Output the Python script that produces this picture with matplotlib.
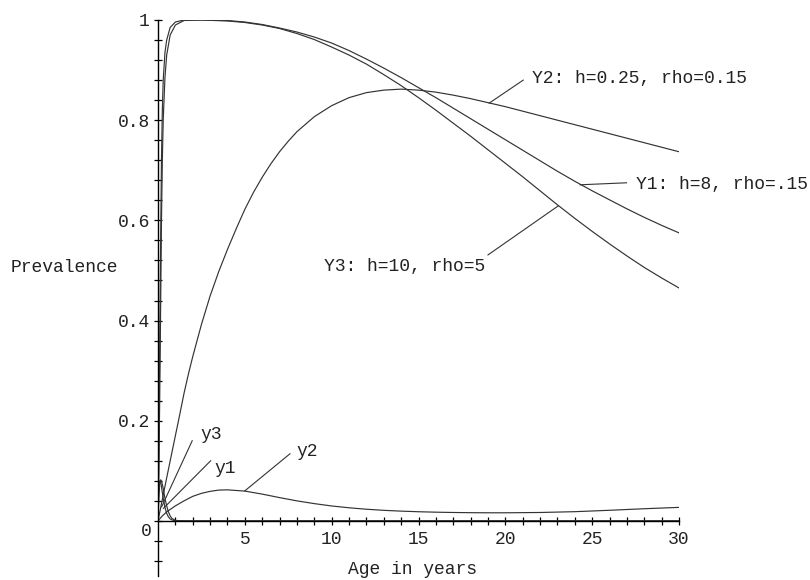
import matplotlib
matplotlib.use('Agg')
import matplotlib.pyplot as plt
import numpy as np

plt.rcParams['font.family'] = ['Liberation Mono', 'DejaVu Sans Mono']

# big curves Y1, Y3 (fast rise then fall), Y2 (slow rise)
x_Y1 = [0, 0.05, 0.1, 0.15, 0.2, 0.25, 0.3, 0.4, 0.5, 0.7, 1.0, 1.5, 2.5, 4, 5, 6, 7, 8, 9, 10,
        11, 12, 13, 14, 15, 16, 17, 18, 19, 20, 21, 22, 23, 24, 25, 26, 27, 28, 29, 30]
Y1 = [0, 0.1, 0.25, 0.42, 0.6, 0.72, 0.8, 0.885, 0.93, 0.97, 0.99, 0.999, 1.0, 0.999, 0.996,
      0.991, 0.984, 0.976, 0.966, 0.954, 0.939, 0.922, 0.904, 0.885, 0.865, 0.845, 0.824, 0.803,
      0.782, 0.761, 0.740, 0.719, 0.698, 0.678, 0.659, 0.641, 0.623, 0.606, 0.590, 0.575]

x_Y3 = [0, 0.05, 0.1, 0.15, 0.2, 0.25, 0.3, 0.4, 0.5, 0.7, 1.0, 1.5, 2.5, 4, 5, 6, 7, 8, 9, 10,
        11, 12, 13, 14, 15, 16, 17, 18, 19, 20, 21, 22, 23, 24, 25, 26, 27, 28, 29, 30]
Y3 = [0, 0.15, 0.35, 0.55, 0.72, 0.82, 0.88, 0.935, 0.96, 0.985, 0.996, 1.0, 1.0, 0.998, 0.995,
      0.99, 0.983, 0.973, 0.961, 0.946, 0.930, 0.912, 0.891, 0.869, 0.845, 0.820, 0.794, 0.768,
      0.741, 0.714, 0.687, 0.659, 0.631, 0.604, 0.578, 0.553, 0.529, 0.506, 0.485, 0.465]

x_Y2 = [0, 0.25, 0.5, 0.75, 1, 1.25, 1.5, 1.75, 2, 2.5, 3, 3.5, 4, 4.5, 5, 5.5, 6, 6.5, 7, 7.5,
        8, 9, 10, 11, 12, 13, 14, 15, 16, 17, 18, 19, 20, 21, 22, 23, 24, 25, 26, 27, 28, 29, 30]
Y2 = [0, 0.043, 0.086, 0.128, 0.17, 0.212, 0.255, 0.293, 0.328, 0.392, 0.449, 0.498, 0.542,
      0.583, 0.622, 0.656, 0.686, 0.713, 0.737, 0.758, 0.777, 0.807, 0.829, 0.845, 0.855, 0.860,
      0.862, 0.860, 0.856, 0.850, 0.843, 0.835, 0.827, 0.818, 0.809, 0.8, 0.791, 0.782, 0.773,
      0.764, 0.755, 0.746, 0.737]

# small curves y1, y3 (spikes near 0), y2
x_y1 = [0, 0.05, 0.1, 0.15, 0.2, 0.3, 0.4, 0.5, 0.6, 0.7, 0.8, 1.0, 1.5, 30]
y1 = [0, 0.05, 0.075, 0.082, 0.08, 0.065, 0.045, 0.03, 0.018, 0.01, 0.005, 0.001, 0, 0]

x_y3 = [0, 0.05, 0.1, 0.15, 0.2, 0.3, 0.4, 0.5, 0.6, 0.7, 0.8, 1.0, 30]
y3 = [0, 0.06, 0.08, 0.078, 0.068, 0.045, 0.027, 0.015, 0.008, 0.004, 0.002, 0, 0]

x_y2 = [0, 0.25, 0.5, 1, 1.5, 2, 2.5, 3, 3.5, 4, 5, 6, 7, 8, 9, 10, 11, 12, 13, 14, 15, 16,
        17, 18, 19, 20, 22, 24, 26, 28, 30]
y2 = [0, 0.01, 0.018, 0.03, 0.04, 0.049, 0.055, 0.059, 0.0615, 0.062, 0.0595, 0.0535, 0.0465,
      0.04, 0.0345, 0.0298, 0.0262, 0.0233, 0.0211, 0.0195, 0.0183, 0.0174, 0.0168, 0.0164,
      0.0162, 0.0162, 0.0168, 0.0184, 0.0212, 0.0243, 0.027]

xtick_vals = [5, 10, 15, 20, 25, 30]
ytick_vals = [0.2, 0.4, 0.6, 0.8, 1.0]
ytick_labels = ['0.2', '0.4', '0.6', '0.8', '1']

fig = plt.figure(figsize=(8.1, 5.8), dpi=100)
ax = fig.add_axes([158 / 810, 4 / 580, 521 / 810, 556 / 580])

lc = '#333333'
lw = 0.85
for xs, ys in [(x_Y1, Y1), (x_Y3, Y3), (x_Y2, Y2), (x_y1, y1), (x_y3, y3), (x_y2, y2)]:
    ax.plot(xs, ys, color=lc, lw=lw)

# labels with pointer lines: (text, curve point, line end, text pos, ha)
notes = [
    ('Y2: h=0.25, rho=0.15', (19.07, 0.834), (21.03, 0.880), (21.55, 0.883), 'left'),
    ('Y1: h=8, rho=.15', (24.3, 0.671), (26.98, 0.675), (27.5, 0.671), 'left'),
    ('Y3: h=10, rho=5', (23.05, 0.629), (19.0, 0.531), (18.85, 0.507), 'right'),
    ('y3', (0.21, 0.028), (1.97, 0.160), (2.45, 0.172), 'left'),
    ('y1', (0.31, 0.025), (3.03, 0.120), (3.25, 0.104), 'left'),
    ('y2', (5.0, 0.060), (7.6, 0.134), (7.95, 0.138), 'left'),
]
for txt, p0, p1, tp, ha in notes:
    ax.plot([p0[0], p1[0]], [p0[1], p1[1]], color=lc, lw=0.8)
    ax.text(tp[0], tp[1], txt, ha=ha, va='center', fontsize=13, color='#222222')

ax.set_xlim(0, 30)
ax.set_ylim(-0.11, 1.0)
ax.spines['left'].set_position(('data', 0))
ax.spines['bottom'].set_position(('data', 0))
ax.spines['top'].set_visible(False)
ax.spines['right'].set_visible(False)
for s in ['left', 'bottom']:
    ax.spines[s].set_linewidth(1.0)

ax.set_xticks(xtick_vals)
ax.set_xticklabels([str(v) for v in xtick_vals], fontsize=13, color='#222222')
ax.set_xticks(np.arange(1, 31, 1), minor=True)
ax.set_yticks(ytick_vals)
ax.set_yticklabels(ytick_labels, fontsize=13, color='#222222')
ax.set_yticks(np.arange(-0.08, 1.0, 0.04), minor=True)
ax.tick_params(which='both', direction='inout', length=6, width=0.9, color='k')
ax.tick_params(axis='x', pad=4)
ax.tick_params(axis='y', pad=3)

ax.text(-0.35, -0.022, '0', ha='right', va='center', fontsize=13, color='#222222')
ax.text(-8.5, 0.505, 'Prevalence', ha='left', va='center', fontsize=13, color='#222222')
ax.text(14.67, -0.098, 'Age in years', ha='center', va='center', fontsize=13, color='#222222')

fig.savefig('out.png', dpi=100)
